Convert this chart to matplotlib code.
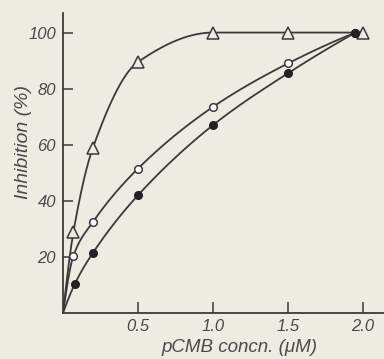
import numpy as np
import matplotlib
matplotlib.use("Agg")
import matplotlib.pyplot as plt

# Data
x_tri = [0.07, 0.2, 0.5, 1.0, 1.5, 2.0]
y_tri = [29, 59, 89.5, 100, 100, 100]
x_open = [0.07, 0.2, 0.5, 1.0, 1.5, 1.95]
y_open = [20.5, 32.5, 51.5, 73.5, 89, 100]
x_fill = [0.08, 0.2, 0.5, 1.0, 1.5, 1.95]
y_fill = [10.5, 21.5, 42, 67, 85.5, 100]
x_ticks = [0.5, 1.0, 1.5, 2.0]
x_ticklabels = ["0.5", "1.0", "1.5", "2.0"]
y_ticks = [20, 40, 60, 80, 100]
y_ticklabels = ["20", "40", "60", "80", "100"]

BG = "#eeebe3"
INK = "#3a3a3a"
TXT = "#4a4a4a"
FAM = ["Liberation Sans", "DejaVu Sans"]


def pchip(xk, yk, xs):
    xk = np.asarray(xk, float); yk = np.asarray(yk, float)
    h = np.diff(xk); d = np.diff(yk) / h
    n = len(xk); m = np.zeros(n)
    for k in range(1, n - 1):
        if d[k - 1] * d[k] > 0:
            w1 = 2 * h[k] + h[k - 1]; w2 = h[k] + 2 * h[k - 1]
            m[k] = (w1 + w2) / (w1 / d[k - 1] + w2 / d[k])
    m[0] = max(0, ((2 * h[0] + h[1]) * d[0] - h[0] * d[1]) / (h[0] + h[1]))
    m[-1] = max(0, ((2 * h[-1] + h[-2]) * d[-1] - h[-1] * d[-2]) / (h[-1] + h[-2]))
    out = np.empty_like(xs)
    for i, xv in enumerate(xs):
        k = min(np.searchsorted(xk, xv) - 1, n - 2); k = max(k, 0)
        t = (xv - xk[k]) / h[k]
        h00 = 2 * t**3 - 3 * t**2 + 1; h10 = t**3 - 2 * t**2 + t
        h01 = -2 * t**3 + 3 * t**2; h11 = t**3 - t**2
        out[i] = h00 * yk[k] + h10 * h[k] * m[k] + h01 * yk[k + 1] + h11 * h[k] * m[k + 1]
    return out


fig = plt.figure(figsize=(3.84, 3.59), dpi=100, facecolor=BG)
ax = fig.add_axes([0.164, 0.128, 0.836, 0.836], facecolor=BG)

for xs_, ys_ in [(x_tri, y_tri), (x_open, y_open), (x_fill, y_fill)]:
    xk = [0.0] + list(xs_); yk = [0.0] + list(ys_)
    xx = np.linspace(0, xk[-1], 400)
    ax.plot(xx, pchip(xk, yk, xx), color=INK, lw=1.3, zorder=2)

ax.plot(x_tri, y_tri, ls="none", marker="^", ms=8, mfc=BG, mec=INK, mew=1.1, zorder=3)
ax.plot(x_open, y_open, ls="none", marker="o", ms=5.5, mfc="white", mec=INK, mew=1.1, zorder=4)
ax.plot(x_fill, y_fill, ls="none", marker="o", ms=5.5, mfc="#222222", mec="#222222", mew=1.0, zorder=4)

ax.set_xlim(0, 2.14)
ax.set_ylim(0, 107)
for s in ["top", "right"]:
    ax.spines[s].set_visible(False)
for s in ["left", "bottom"]:
    ax.spines[s].set_color(INK); ax.spines[s].set_linewidth(1.3)

ax.set_xticks(x_ticks)
ax.set_xticklabels(x_ticklabels, family=FAM, style="italic", fontsize=12, color=TXT)
ax.set_yticks(y_ticks)
ax.set_yticklabels(y_ticklabels, family=FAM, style="italic", fontsize=12, color=TXT)
ax.tick_params(axis="x", direction="in", length=8, width=1.1, color=INK, pad=4)
ax.tick_params(axis="y", direction="in", length=7, width=1.1, color=INK, pad=5)

ax.set_xlabel("pCMB concn. (μM)", family=FAM, style="italic", fontsize=13.5, color=TXT)
ax.set_ylabel("Inhibition (%)", family=FAM, style="italic", fontsize=14, color=TXT)
ax.xaxis.set_label_coords(0.55, -0.085)
ax.yaxis.set_label_coords(-0.097, 0.57)

fig.savefig("out.png", dpi=100, facecolor=BG)
